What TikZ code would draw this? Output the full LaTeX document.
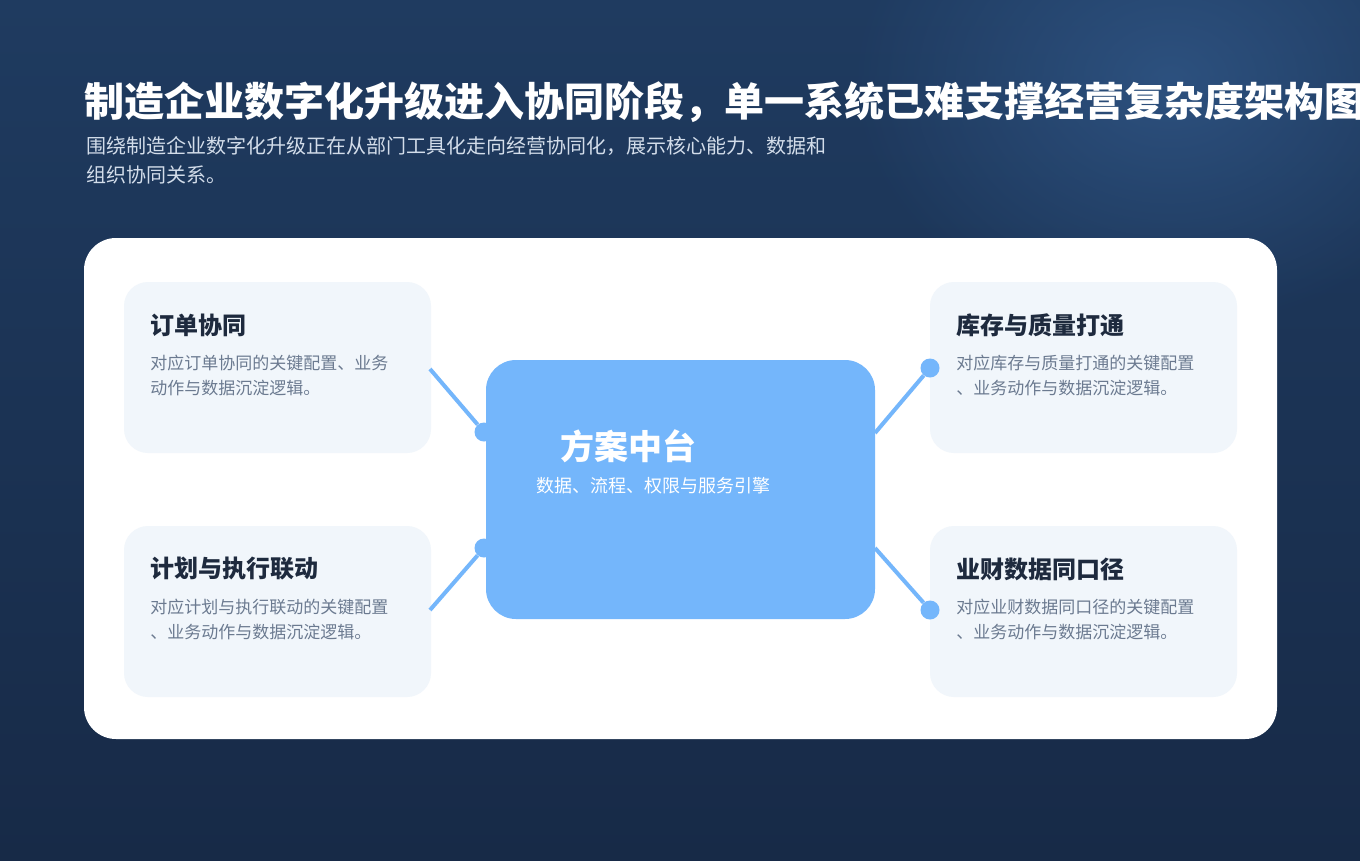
\documentclass[tikz,border=0pt]{standalone}
\usepackage{fontspec}
\setmainfont{Noto Sans CJK SC}
\usetikzlibrary{positioning, fadings}
\definecolor{bgtop}{HTML}{1F3B60}
\definecolor{bgbot}{HTML}{172A47}
\definecolor{glow}{HTML}{32598A}
\definecolor{subgray}{HTML}{D3DDEA}
\definecolor{cardfill}{HTML}{F1F6FB}
\definecolor{cardhead}{HTML}{1E2A3E}
\definecolor{cardtext}{HTML}{6B7A90}
\definecolor{hub}{HTML}{74B6FB}
\tikzfading[name=glowfade, inner color=transparent!25, outer color=transparent!100]
\begin{document}
\begin{tikzpicture}[x=1pt, y=-1pt, >=stealth, semithick,
    panel/.style={fill=white, rounded corners=32pt, minimum width=1193pt, minimum height=501pt, inner sep=0pt},
    card/.style={fill=cardfill, rounded corners=24pt, minimum width=307pt, minimum height=171pt, inner sep=0pt},
    hubbox/.style={fill=hub, rounded corners=30pt, minimum width=389pt, minimum height=259pt, inner sep=0pt},
    head/.style={anchor=west, inner sep=0pt, text=cardhead, font=\fontsize{24}{28}\selectfont\bfseries},
    desc/.style={inner sep=0pt, align=left, text=cardtext, font=\fontsize{17}{25}\selectfont},
    dot/.style={circle, fill=hub, minimum size=19pt, inner sep=0pt},
    link/.style={draw=hub, line width=4pt}]
\useasboundingbox (0,0) rectangle (1360,860);
\clip (0,0) rectangle (1360,860);
\fill[top color=bgtop, bottom color=bgbot] (0,0) rectangle (1360,860);
\fill[glow, path fading=glowfade] (1170,80) ellipse (320 and 250);
\node[anchor=west, inner sep=0pt, text=white, font=\fontsize{40}{48}\selectfont\bfseries] (title) at (84,102) {制造企业数字化升级进入协同阶段，单一系统已难支撑经营复杂度架构图};
\node[anchor=north west, inner sep=0pt, align=left, text=subgray, font=\fontsize{20}{29}\selectfont] (sub) at (86,136) {围绕制造企业数字化升级正在从部门工具化走向经营协同化，展示核心能力、数据和\\组织协同关系。};
\node[panel] (p) at (680.5,488.5) {};
\node[card] (c1) at (277.5,367.5) {};
\node[card] (c2) at (277.5,611.5) {};
\node[card] (c3) at (1083.5,367.5) {};
\node[card] (c4) at (1083.5,611.5) {};
\node[hubbox] (hub) at (680.5,489.5) {};
\node[head] (t1) at (150,325) {订单协同};
\node[desc, below right=18pt and 0pt of t1.south west] (s1) {对应订单协同的关键配置、业务\\动作与数据沉淀逻辑。};
\node[head] (t2) at (150,569) {计划与执行联动};
\node[desc, below right=18pt and 0pt of t2.south west] (s2) {对应计划与执行联动的关键配置\\、业务动作与数据沉淀逻辑。};
\node[head] (t3) at (956,325) {库存与质量打通};
\node[desc, below right=18pt and 0pt of t3.south west] (s3) {对应库存与质量打通的关键配置\\、业务动作与数据沉淀逻辑。};
\node[head] (t4) at (956,569) {业财数据同口径};
\node[desc, below right=18pt and 0pt of t4.south west] (s4) {对应业财数据同口径的关键配置\\、业务动作与数据沉淀逻辑。};
\node[inner sep=0pt, text=white, font=\fontsize{34}{40}\selectfont\bfseries] (ht) at (628,446) {方案中台};
\node[inner sep=0pt, text=white, font=\fontsize{18}{22}\selectfont] (hs) at (653,486) {数据、流程、权限与服务引擎};
\coordinate (e1) at (430,369);
\coordinate (e2) at (430,610);
\coordinate (e3) at (875,433);
\coordinate (e4) at (875,548);
\node[dot] (d1) at (484,432) {};
\node[dot] (d2) at (484,548) {};
\node[dot] (d3) at (930,368) {};
\node[dot] (d4) at (930,610) {};
\draw[link] (e1) -- (d1);
\draw[link] (e2) -- (d2);
\draw[link] (e3) -- (d3);
\draw[link] (e4) -- (d4);
\end{tikzpicture}
\end{document}
